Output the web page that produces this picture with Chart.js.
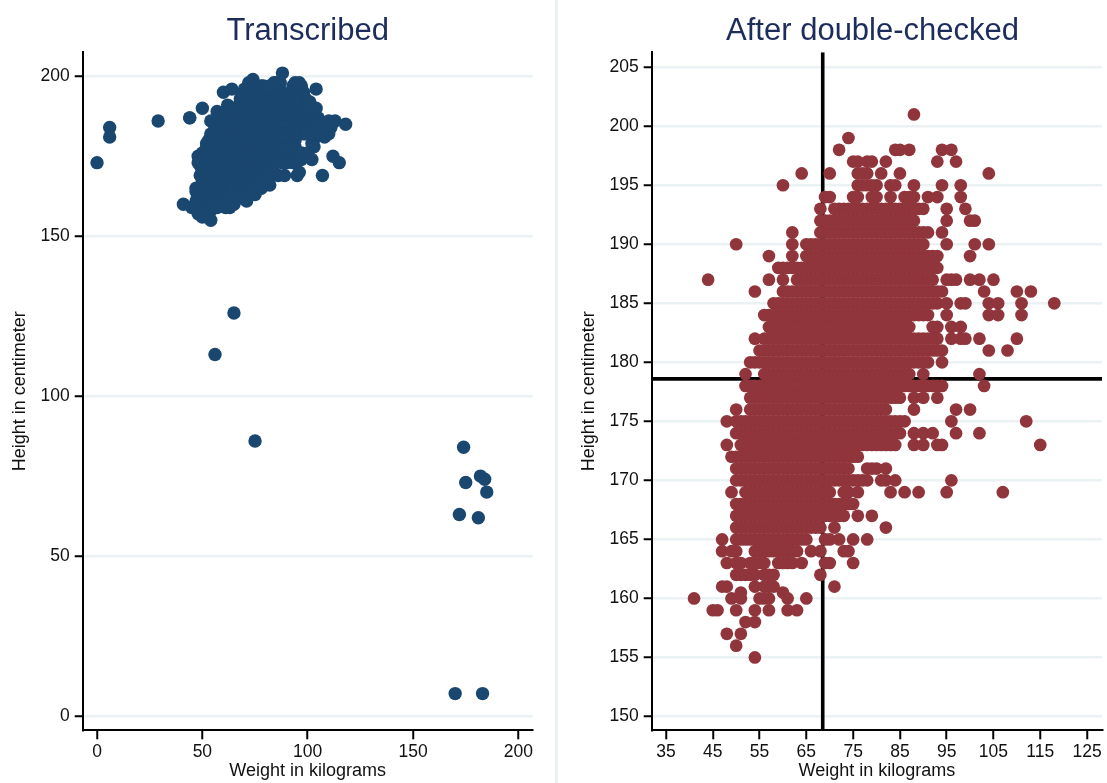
<!DOCTYPE html>
<html>
<head>
<meta charset="utf-8">
<title>Height and weight</title>
<script src="https://cdn.jsdelivr.net/npm/chart.js@4"></script>
<style>
	html, body { margin: 0; padding: 0; background: #fff; overflow: hidden; }
	#wrap { position: relative; width: 1107px; height: 783px; }
	#leftBox { position: absolute; left: 0; top: 0; width: 555px; height: 783px; }
	#rightBox { position: absolute; left: 558px; top: 0; width: 549px; height: 783px; }
	#band { position: absolute; left: 555px; top: 0; width: 3px; height: 783px; background: #eaf2f3; }
</style>
</head>
<body>
<div id="wrap">
	<div id="leftBox"><canvas id="leftChart"></canvas></div>
	<div id="band"></div>
	<div id="rightBox"><canvas id="rightChart"></canvas></div>
</div>
<script>
// heights, one row of dots per height
const heights = [201,199,198,197,196,195,194,193,192,191,190,189,188,187,186,185,184,183,182,181,180,179,178,177,176,175,174,173,172,171,170,169,168,167,166,165,164,163,162,161,160.5,160,159,158,157,156,155];

const weightRows = [
	[88],
	[74],
	[72,84,85,87,94,96],
	[75,76,78,79,82,93,97],
	[64,70,76,77,78,81,85,104],
	[60,76,77,78,79,80,83,84,88,94,98],
	[69,70,75,76,79,80,83,86,87,88,91,93,98],
	[68,71,72,73,74,75,76,77,78,79,80,81,82,83,84,85,86,87,88,89,90,95,99],
	[68,69,70,71,72,73,74,75,76,77,78,79,80,81,82,83,84,85,86,87,88,95,100,101],
	[62,68,69,70,71,72,73,74,75,76,77,78,79,80,81,82,83,84,85,86,87,88,89,90,91,94],
	[50,62,65,66,67,68,69,70,71,72,73,74,75,76,77,78,79,80,81,82,83,84,85,86,87,88,89,90,95,101,104],
	[57,62,65,66,67,68,69,70,71,72,73,74,75,76,77,78,79,80,81,82,83,84,85,86,87,88,89,90,91,92,93,100],
	[59,60,61,62,63,64,65,66,67,68,69,70,71,72,73,74,75,76,77,78,79,80,81,82,83,84,85,86,87,88,89,90,91,92,93],
	[44,57,60,63,64,65,66,67,68,69,70,71,72,73,74,75,76,77,78,79,80,81,82,83,84,85,86,87,88,89,90,91,92,95,96,97,100,102,105],
	[54,60,61,62,63,64,65,66,67,68,69,70,71,72,73,74,75,76,77,78,79,80,81,82,83,84,85,86,87,88,89,90,91,92,93,94,103,110,113],
	[58,59,60,61,62,63,64,65,66,67,68,69,70,71,72,73,74,75,76,77,78,79,80,81,82,83,84,85,86,87,88,89,90,91,92,93,95,98,99,104,106,111,118],
	[56,57,58,59,60,61,62,63,64,65,66,67,68,69,70,71,72,73,74,75,76,77,78,79,80,81,82,83,84,85,86,87,88,89,90,91,95,104,106,111],
	[57,58,59,60,61,62,63,64,65,66,67,68,69,70,71,72,73,74,75,76,77,78,79,80,81,82,83,84,85,86,87,92,93,96,98],
	[54,56,57,58,59,60,61,62,63,64,65,66,67,68,69,70,71,72,73,74,75,76,77,78,79,80,81,82,83,84,85,86,87,88,89,90,91,92,93,96,98,99,102,110],
	[55,56,57,58,59,60,61,62,63,64,65,66,67,68,69,70,71,72,73,74,75,76,77,78,79,80,81,82,83,84,85,86,87,88,89,90,91,92,93,94,104,108],
	[53,54,55,56,57,58,59,60,61,62,63,64,65,66,67,68,69,70,71,72,73,74,75,76,77,78,79,80,81,82,83,84,85,86,87,88,89,90,91,94],
	[52,56,57,58,59,60,61,62,63,64,65,66,67,68,69,70,71,72,73,74,75,76,77,78,79,80,81,82,83,84,85,86,87,90,102],
	[52,53,54,55,56,57,58,59,60,61,62,63,64,65,66,67,68,69,70,71,72,73,74,75,76,77,78,79,80,81,82,83,84,85,86,87,88,89,90,91,92,93,94,103],
	[53,54,55,56,57,58,59,60,61,62,63,64,65,66,67,68,69,70,71,72,73,74,75,76,77,78,79,80,81,82,83,84,85,88,90,93],
	[50,53,54,55,56,57,58,59,60,61,62,63,64,65,66,67,68,69,70,71,72,73,74,75,76,77,78,79,80,81,82,88,97,100],
	[48,50,51,52,53,54,55,56,57,58,59,60,61,62,63,64,65,66,67,68,69,70,71,72,73,74,75,76,77,78,79,80,81,82,83,84,85,86,96,112],
	[50,51,52,53,54,55,56,57,58,59,60,61,62,63,64,65,66,67,68,69,70,71,72,73,74,75,76,77,78,79,80,81,82,83,84,85,88,90,92,97,102],
	[48,51,52,53,54,55,56,57,58,59,60,61,62,63,64,65,66,67,68,69,70,71,72,73,74,75,76,77,78,79,80,81,82,83,84,88,90,93,94,115],
	[49,50,51,52,53,54,55,56,57,58,59,60,61,62,63,64,65,66,67,68,69,70,71,72,73,74,75,76],
	[50,51,52,53,54,55,56,57,58,59,60,61,62,63,64,65,66,67,68,69,70,71,72,73,74,78,79,80,82],
	[50,51,52,53,54,55,56,57,58,59,60,61,62,63,64,65,66,67,68,69,70,71,72,73,74,75,76,77,78,81,82,84,96],
	[49,52,53,54,55,56,57,58,59,60,61,62,63,64,65,66,67,68,69,70,73,74,76,83,86,89,95,107],
	[50,51,52,53,54,55,56,57,58,59,60,61,62,63,64,65,66,67,68,69,70,71,72,73,74,75],
	[50,51,52,53,54,55,56,57,58,59,60,61,62,63,64,65,66,67,68,69,70,71,72,73,76,79],
	[50,51,52,53,54,55,56,57,58,59,60,61,62,63,64,65,66,67,68,71,82],
	[47,50,51,52,53,54,55,56,57,58,59,60,61,62,63,64,65,69,70,72,75,78],
	[47,49,50,54,55,56,57,58,59,60,61,62,63,66,68,73,74],
	[48,50,51,53,54,55,56,59,60,61,62,64,69,70,75],
	[50,51,52,53,54,56,57,58,68],
	[47,48,54,56,57,58,71],
	[51,60],
	[41,49,51,55,56,57,61,65],
	[45,46,50,54,57,61,63],
	[52,54],
	[48,51],
	[50],
	[54]
];

// the wrongly keyed records that only show up in the left panel
const typoWeights = [0,6,6,29,44,65,56,75,174,175,172,181,182,184,185,170,183];
const typoHeights = [173,184,181,186,187,126,113,86,84,73,63,62,75,74,70,7,7];

// reference lines on the right panel
const meanWeight = 68.5;
const meanHeight = 178.6;

const leftXTicks = [0,50,100,150,200];
const leftYTicks = [0,50,100,150,200];
const rightXTicks = [35,45,55,65,75,85,95,105,115,125];
const rightYTicks = [150,155,160,165,170,175,180,185,190,195,200,205];

const cleanPoints = [];
heights.forEach((h, i) => {
	weightRows[i].forEach((w) => cleanPoints.push({ x: w, y: h }));
});
const typoPoints = typoWeights.map((w, i) => ({ x: w, y: typoHeights[i] }));

const FONT = '"Liberation Sans", Arial, sans-serif';
Chart.defaults.font.family = FONT;
Chart.defaults.animation = false;
Chart.defaults.color = '#111';

// moves the title off the plot centre, Stata centres it on the graph region
const titleShift = {
	id: 'titleShift',
	afterLayout(chart, args, opts) {
		chart.titleBlock.left += opts.dx;
		chart.titleBlock.right += opts.dx;
	}
};

function makeScale(min, max, ticks, title, width, height, titlePad) {
	return {
		type: 'linear',
		min: min,
		max: max,
		afterBuildTicks: (s) => { s.ticks = ticks.map((v) => ({ value: v })); },
		afterFit: (s) => {
			if (width) s.width = width;
			if (height) s.height = height;
		},
		border: { display: true, color: '#000', width: 2 },
		grid: {
			display: true,
			drawOnChartArea: !!width,
			color: '#eaf2f3',
			lineWidth: 2.5,
			tickColor: '#000',
			tickWidth: 2,
			tickLength: width ? 8 : 9
		},
		ticks: { color: '#111', font: { size: 17.5 }, padding: width ? 5 : 2, maxRotation: 0, autoSkip: false, callback: (v) => String(v) },
		title: { display: true, text: title, color: '#111', font: { size: 18 }, padding: titlePad }
	};
}

function makeOptions(titleText, dx, rightPad, xScale, yScale) {
	return {
		responsive: true,
		maintainAspectRatio: false,
		layout: { autoPadding: false, padding: { left: 0, right: rightPad, top: 0, bottom: 0 } },
		plugins: {
			legend: { display: false },
			tooltip: { enabled: false },
			titleShift: { dx: dx },
			title: {
				display: true,
				text: titleText,
				color: '#1c2c5b',
				font: { size: 31, weight: 'normal' },
				padding: { top: 12.4, bottom: 2.7 },
				fullSize: false
			}
		},
		scales: { x: xScale, y: yScale }
	};
}

new Chart(document.getElementById('leftChart'), {
	type: 'scatter',
	plugins: [titleShift],
	data: {
		datasets: [{
			label: 'Transcribed',
			data: cleanPoints.concat(typoPoints),
			backgroundColor: '#1a476f',
			pointRadius: 6.7,
			pointBorderWidth: 0
		}]
	},
	options: makeOptions('Transcribed', 0, 22.3,
		makeScale(-6.8, 206.8, leftXTicks, 'Weight in kilograms', 0, 52.7, { top: 0, bottom: 1.2 }),
		makeScale(-4.47, 207.5, leftYTicks, 'Height in centimeter', 82.7, 0, { top: 9, bottom: 0 }))
});

new Chart(document.getElementById('rightChart'), {
	type: 'scatter',
	plugins: [titleShift],
	data: {
		datasets: [{
			label: 'After double-checked',
			data: cleanPoints,
			backgroundColor: '#90353b',
			pointRadius: 6.35,
			pointBorderWidth: 0,
			order: 1
		}, {
			label: 'Mean weight',
			type: 'line',
			data: [{ x: meanWeight, y: 148.83 }, { x: meanWeight, y: 206.26 }],
			borderColor: '#000',
			borderWidth: 3.6,
			pointRadius: 0,
			order: 2
		}, {
			label: 'Mean height',
			type: 'line',
			data: [{ x: 31.94, y: meanHeight }, { x: 128.2, y: meanHeight }],
			borderColor: '#000',
			borderWidth: 3.6,
			pointRadius: 0,
			order: 2
		}]
	},
	options: makeOptions('After double-checked', -4.3, 5,
		makeScale(31.94, 128.2, rightXTicks, 'Weight in kilograms', 0, 52.7, { top: 0, bottom: 1.2 }),
		makeScale(148.83, 206.26, rightYTicks, 'Height in centimeter', 93.7, 0, { top: 20, bottom: 0 }))
});
</script>
</body>
</html>
